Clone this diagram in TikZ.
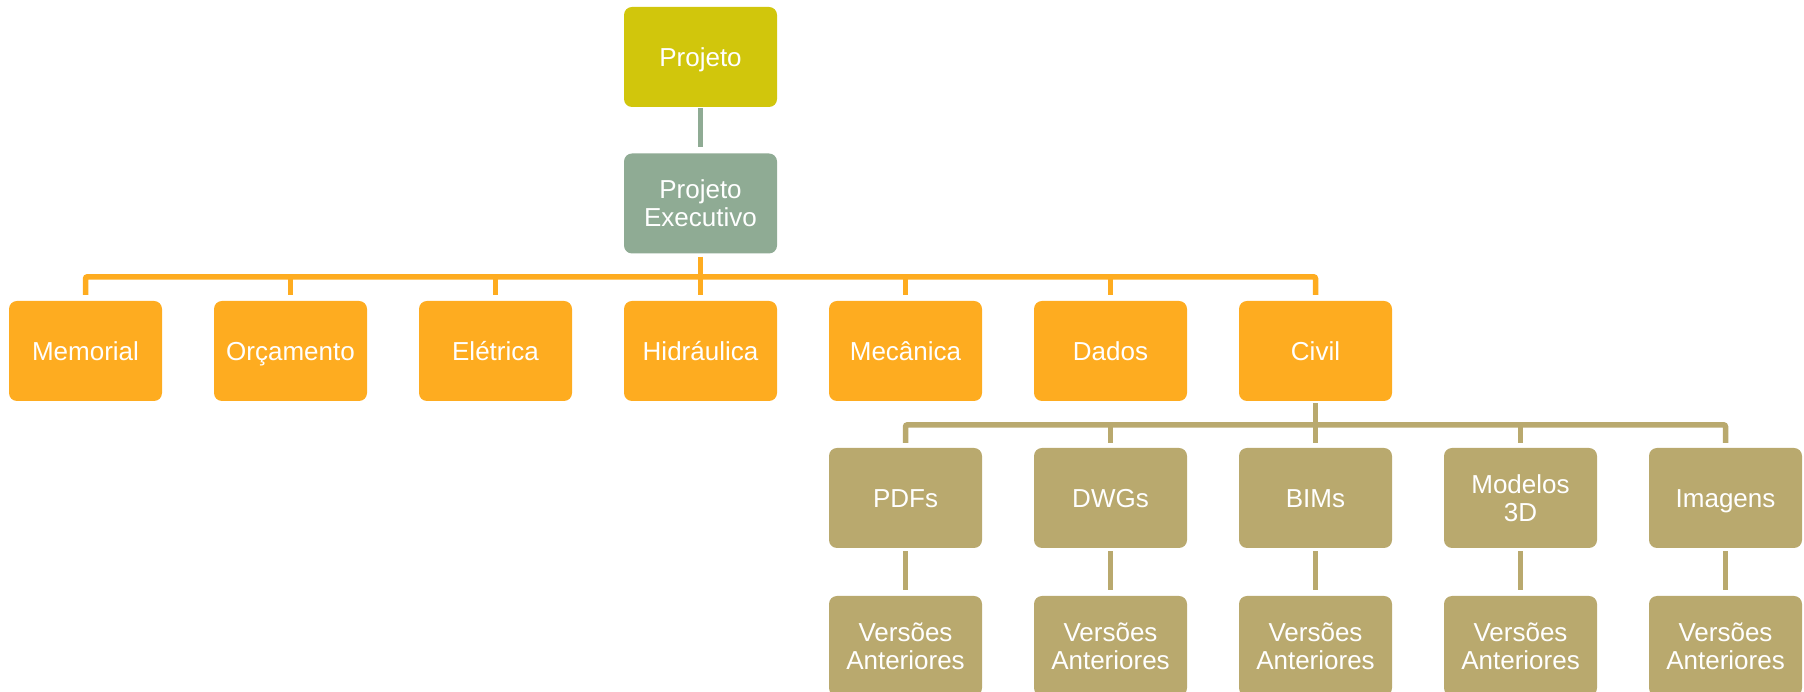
\documentclass[tikz,border=0pt]{standalone}
\usepackage{fontspec}
\setmainfont{Liberation Sans}
\definecolor{cproj}{RGB}{209,198,12}
\definecolor{cexec}{RGB}{143,171,148}
\definecolor{corg}{RGB}{254,172,32}
\definecolor{ctan}{RGB}{185,169,110}
\tikzset{
  boxbase/.style={rounded corners=8pt, minimum width=153pt, minimum height=100pt, inner sep=0pt,
    text=white, align=center, font=\fontsize{26}{28}\selectfont},
  single/.style={text height=18.5pt, text depth=0pt},
  projbox/.style={boxbase, fill=cproj},
  execbox/.style={boxbase, fill=cexec},
  orgbox/.style={boxbase, fill=corg},
  tanbox/.style={boxbase, fill=ctan},
  gline/.style={draw=cexec, line width=5.5pt},
  oline/.style={draw=corg, line width=5.5pt, rounded corners=2pt},
  tline/.style={draw=ctan, line width=5.5pt, rounded corners=2pt},
}
\begin{document}
\begin{tikzpicture}[x=1pt,y=1pt]
\useasboundingbox (0,0) rectangle (1804,692);
\node[projbox,single] (proj) at (700.5,635) {Projeto};
\node[execbox] (exec) at (700.5,488.5) {Projeto\\Executivo};
\node[orgbox,single] (mem) at (85.5,341) {Memorial};
\node[orgbox,single] (orc) at (290.5,341) {Orçamento};
\node[orgbox,single] (ele) at (495.5,341) {Elétrica};
\node[orgbox,single] (hid) at (700.5,341) {Hidráulica};
\node[orgbox,single] (mec) at (905.5,341) {Mecânica};
\node[orgbox,single] (dad) at (1110.5,341) {Dados};
\node[orgbox,single] (civ) at (1315.5,341) {Civil};
\node[tanbox,single] (pdf) at (905.5,194) {PDFs};
\node[tanbox,single] (dwg) at (1110.5,194) {DWGs};
\node[tanbox,single] (bim) at (1315.5,194) {BIMs};
\node[tanbox] (mod) at (1520.5,194) {Modelos\\3D};
\node[tanbox,single] (img) at (1725.5,194) {Imagens};
\node[tanbox] (v1) at (905.5,46) {Versões\\Anteriores};
\node[tanbox] (v2) at (1110.5,46) {Versões\\Anteriores};
\node[tanbox] (v3) at (1315.5,46) {Versões\\Anteriores};
\node[tanbox] (v4) at (1520.5,46) {Versões\\Anteriores};
\node[tanbox] (v5) at (1725.5,46) {Versões\\Anteriores};
% Projeto -> Executivo
\draw[gline] ([yshift=-1]proj.south) -- ([yshift=6]exec.north);
% orange bus
\draw[oline] ([yshift=-3]exec.south) -- ([yshift=6]hid.north);
\draw[oline] ([yshift=6]mem.north) -- ++(0,18) -| ([yshift=6]civ.north);
\foreach \n in {orc,ele,mec,dad}{
  \draw[oline] ([yshift=6]\n.north) -- ++(0,19);
}
% tan bus
\draw[tline] ([yshift=-2]civ.south) -- ([yshift=5]bim.north);
\draw[tline] ([yshift=5]pdf.north) -- ++(0,18) -| ([yshift=5]img.north);
\foreach \n in {dwg,mod}{
  \draw[tline] ([yshift=5]\n.north) -- ++(0,19);
}
% versions
\draw[tline] ([yshift=-3]pdf.south) -- ([yshift=6]v1.north);
\draw[tline] ([yshift=-3]dwg.south) -- ([yshift=6]v2.north);
\draw[tline] ([yshift=-3]bim.south) -- ([yshift=6]v3.north);
\draw[tline] ([yshift=-3]mod.south) -- ([yshift=6]v4.north);
\draw[tline] ([yshift=-3]img.south) -- ([yshift=6]v5.north);
\end{tikzpicture}
\end{document}
